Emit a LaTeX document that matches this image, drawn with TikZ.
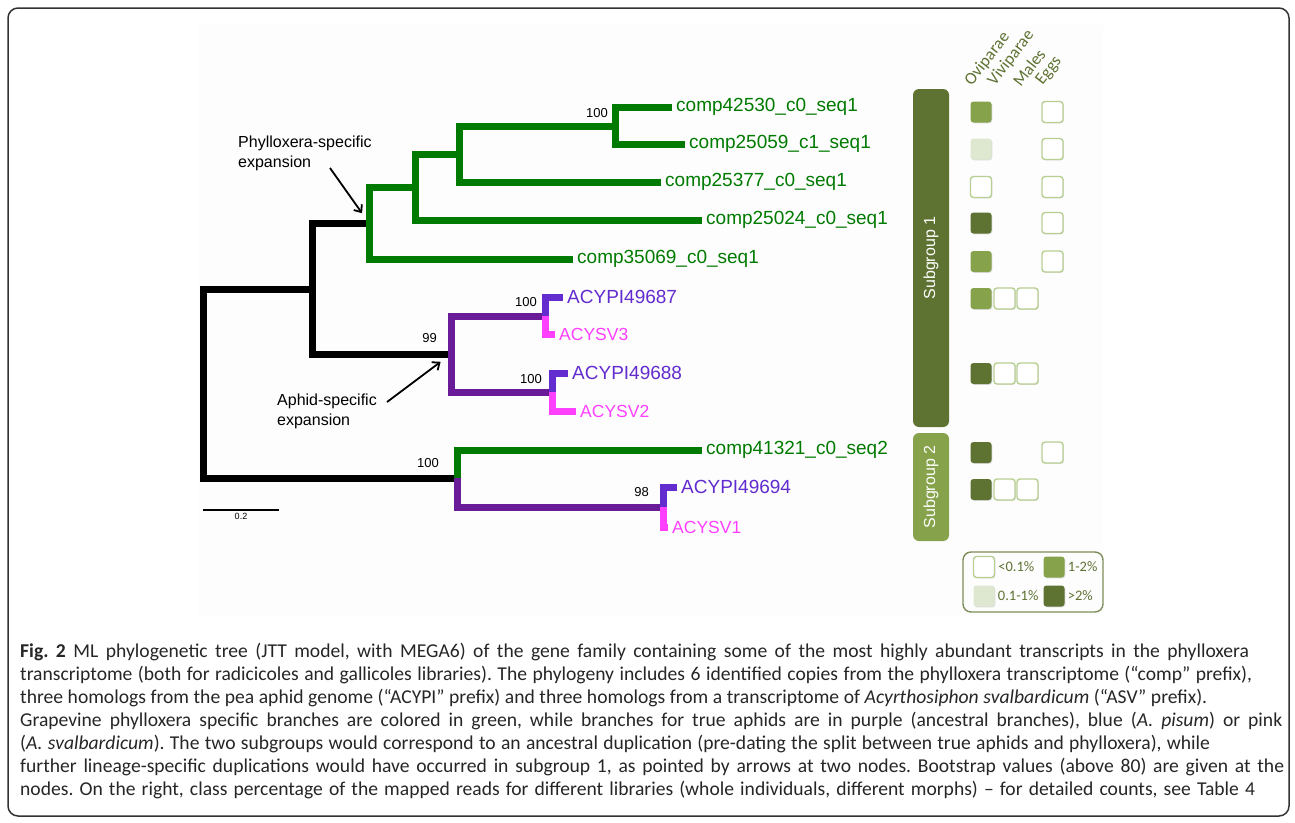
\documentclass[tikz,border=0pt]{standalone}
\usepackage{fontspec}
\setmainfont{Liberation Sans}
\newfontfamily\keyfont{Carlito}
\usetikzlibrary{positioning,calc,arrows.meta,shadows}

\definecolor{phylgreen}{RGB}{0,122,0}
\definecolor{ancpurple}{RGB}{106,28,152}
\definecolor{pisblue}{RGB}{98,44,206}
\definecolor{svalpink}{RGB}{255,64,255}
\definecolor{olivedark}{RGB}{94,114,50}
\definecolor{olivemid}{RGB}{134,162,74}
\definecolor{olivelite}{RGB}{222,231,207}
\definecolor{oliveedge}{RGB}{184,207,146}

% one caption line set to a given width
\newcommand{\capline}[2]{\makebox[#1pt][s]{#2}}

\begin{document}
\frenchspacing
\begin{tikzpicture}[x=1pt,y=-1pt,
        branch/.style={line width=7pt, line join=miter},
        tip/.style={anchor=west, inner sep=0pt, xshift=4pt, text=#1, font=\fontsize{19}{22}\selectfont},
        smalltip/.style={anchor=west, inner sep=0pt, xshift=4pt, text=#1, font=\fontsize{17.5}{20}\selectfont},
        boot/.style={anchor=south east, inner sep=0pt, font=\fontsize{13}{15}\selectfont},
        note/.style={align=left, inner sep=0pt, font=\fontsize{16}{19.5}\selectfont},
        pointer/.style={line width=1.8pt, -{Straight Barb[length=6pt,width=10pt]}},
        subbar/.style={rounded corners=6pt, rotate=90, text=white, minimum height=36pt, font=\fontsize{16}{18}\selectfont},
        cell/.style={rounded corners=3pt, minimum size=21pt, inner sep=0pt,
                     drop shadow={opacity=0.25, shadow xshift=0.8pt, shadow yshift=-0.8pt}},
        empty/.style={cell, fill=white, draw=oliveedge, line width=1.4pt},
        colhead/.style={anchor=south west, rotate=52, inner sep=0pt, text=olivedark, font=\keyfont\fontsize{17}{19}\selectfont},
        keytext/.style={anchor=west, inner sep=0pt, text=olivedark, font=\keyfont\fontsize{14.5}{16}\selectfont}
    ]
    \useasboundingbox (0,0) rectangle (1295,822);
    \fill[white] (0,0) rectangle (1295,822);
    \draw[line width=1.5pt, black!80, rounded corners=10pt] (8,8) rectangle (1289,816);
    \fill[black!0.6] (198,25) rectangle (1103,615);

    % inner nodes of the tree
    \coordinate (root) at (203,383);
    \coordinate (nA) at (312,289);
    \coordinate (nP) at (369,223);
    \coordinate (p2) at (415,187);
    \coordinate (p3) at (459,154);
    \coordinate (p4) at (615,126);
    \coordinate (nQ) at (451,354);
    \coordinate (q1) at (545,316);
    \coordinate (q2) at (552,392);
    \coordinate (nB) at (457,478);
    \coordinate (q3) at (663,507);
    % leaves
    \coordinate (t1) at (672,107);
    \coordinate (t2) at (685,144);
    \coordinate (t3) at (661,182);
    \coordinate (t4) at (702,220);
    \coordinate (t5) at (573,259);
    \coordinate (t6) at (702,450);
    \coordinate (a1) at (563,297);
    \coordinate (s3) at (555,334);
    \coordinate (a2) at (568,373);
    \coordinate (s2) at (576,411);
    \coordinate (a3) at (677,487);
    \coordinate (s1) at (668,527);

    \draw[branch, black] (nA) -| (root) |- (nB);
    \draw[branch, black] (nP) -| (nA) |- (nQ);
    \draw[branch, phylgreen] (p2) -| (nP) |- (t5);
    \draw[branch, phylgreen] (p3) -| (p2) |- (t4);
    \draw[branch, phylgreen] (p4) -| (p3) |- (t3);
    \draw[branch, phylgreen] (t1) -| (p4) |- (t2);
    \draw[branch, ancpurple] (q1) -| (nQ) |- (q2);
    \draw[branch, pisblue] (q1) |- (a1);
    \draw[branch, svalpink] (q1) |- (s3);
    \draw[branch, pisblue] (q2) |- (a2);
    \draw[branch, svalpink] (q2) |- (s2);
    \draw[branch, phylgreen] (nB) |- (t6);
    \draw[branch, ancpurple] (nB) |- (q3);
    \draw[branch, pisblue] (q3) |- (a3);
    \draw[branch, svalpink] (q3) |- (s1);

    \node[tip=phylgreen] (comp42530) at (t1) {comp42530\_c0\_seq1};
    \node[tip=phylgreen] (comp25059) at (t2) {comp25059\_c1\_seq1};
    \node[tip=phylgreen] (comp25377) at (t3) {comp25377\_c0\_seq1};
    \node[tip=phylgreen] (comp25024) at (t4) {comp25024\_c0\_seq1};
    \node[tip=phylgreen] (comp35069) at (t5) {comp35069\_c0\_seq1};
    \node[tip=phylgreen] (comp41321) at (t6) {comp41321\_c0\_seq2};
    \node[tip=pisblue] (acypi87) at (a1) {ACYPI49687};
    \node[tip=pisblue] (acypi88) at (a2) {ACYPI49688};
    \node[tip=pisblue] (acypi94) at (a3) {ACYPI49694};
    \node[smalltip=svalpink] (acysv3) at (s3) {ACYSV3};
    \node[smalltip=svalpink] (acysv2) at (s2) {ACYSV2};
    \node[smalltip=svalpink] (acysv1) at (s1) {ACYSV1};

    % bootstrap values
    \node[boot, xshift=-7pt, yshift=8pt] (bs1) at (p4) {100};
    \node[boot, xshift=-14pt, yshift=11pt] (bs2) at (nQ) {99};
    \node[boot, xshift=-8pt, yshift=9pt] (bs3) at (q1) {100};
    \node[boot, xshift=-10pt, yshift=8pt] (bs4) at (q2) {100};
    \node[boot, xshift=-18pt, yshift=10pt] (bs5) at (nB) {100};
    \node[boot, xshift=-14pt, yshift=10pt] (bs6) at (q3) {98};

    % expansions
    \node[note, anchor=north west] (phylo) at (238,136) {Phylloxera-specific\\expansion};
    \node[note, anchor=north west] (aphid) at (277,394) {Aphid-specific\\expansion};
    \coordinate (phytail) at (330,168);
    \coordinate (aphtail) at (387,402);
    \draw[pointer, shorten >=12pt] (phytail) -- (nP);
    \draw[pointer, shorten >=13pt] (aphtail) -- (nQ);

    % scale
    \coordinate (sc0) at (203,510);
    \coordinate (sc1) at (279,510);
    \draw[line width=1.2pt] (sc0) -- (sc1) node[midway, below=3pt, inner sep=0pt, font=\fontsize{9}{10}\selectfont] (scale) {0.2};

    % subgroups
    \node[subbar, fill=olivedark, minimum width=338pt] (sub1) at (931,258) {Subgroup 1};
    \node[subbar, fill=olivemid, minimum width=108pt] (sub2) at (931,487) {Subgroup 2};

    % library columns
    \node[colhead] (ovi) at (974,88) {Oviparae};
    \node[colhead] (vivi) at (997,88) {Viviparae};
    \node[colhead] (males) at (1021,88) {Males};
    \node[colhead] (eggs) at (1045,88) {Eggs};

    \foreach \y/\c in {112/olivemid, 149/olivelite, 223/olivedark, 261.5/olivemid, 298.5/olivemid, 373.5/olivedark, 452.5/olivedark, 489.5/olivedark}
        \node[cell, fill=\c] (ovi\y) at (981,\y) {};
    \node[empty] (ovi187) at (981,187) {};
    \foreach \y in {112,149,187,223,261.5,452.5}
        \node[empty] (egg\y) at (1052.5,\y) {};
    \foreach \y in {298.5,373.5,489.5} {
        \node[empty] (viv\y) at (1004.5,\y) {};
        \node[empty] (mal\y) at (1027.5,\y) {};
    }

    % key
    \node[draw=olivedark!80, line width=1.4pt, rounded corners=8pt, minimum width=140pt, minimum height=60pt] (key) at (1033,582) {};
    \node[empty] (k1) at (984,567) {};
    \node[keytext, right=3pt of k1] {<0.1\%};
    \node[cell, fill=olivemid] (k2) at (1054,567) {};
    \node[keytext, right=3pt of k2] {1-2\%};
    \node[cell, fill=olivelite] (k3) at (984,596) {};
    \node[keytext, right=3pt of k3] {0.1-1\%};
    \node[cell, fill=olivedark] (k4) at (1054,596) {};
    \node[keytext, right=3pt of k4] {>2\%};

    % caption
    \node[anchor=north west, align=left, inner sep=0pt, text=black!85, font=\keyfont\fontsize{19.6}{23}\selectfont] (caption) at (20,643)
    {\capline{1229}{\textbf{Fig. 2} ML phylogenetic tree (JTT model, with MEGA6) of the gene family containing some of the most highly abundant transcripts in the phylloxera}\\
    \capline{1232}{transcriptome (both for radicicoles and gallicoles libraries). The phylogeny includes 6 identified copies from the phylloxera transcriptome (“comp” prefix),}\\
    \capline{1187}{three homologs from the pea aphid genome (“ACYPI” prefix) and three homologs from a transcriptome of \emph{Acyrthosiphon svalbardicum} (“ASV” prefix).}\\
    \capline{1262}{Grapevine phylloxera specific branches are colored in green, while branches for true aphids are in purple (ancestral branches), blue (\emph{A. pisum}) or pink}\\
    \capline{1190}{(\emph{A. svalbardicum}). The two subgroups would correspond to an ancestral duplication (pre-dating the split between true aphids and phylloxera), while}\\
    \capline{1264}{further lineage-specific duplications would have occurred in subgroup 1, as pointed by arrows at two nodes. Bootstrap values (above 80) are given at the}\\
    \capline{1235}{nodes. On the right, class percentage of the mapped reads for different libraries (whole individuals, different morphs) – for detailed counts, see Table 4}};
\end{tikzpicture}
\end{document}
